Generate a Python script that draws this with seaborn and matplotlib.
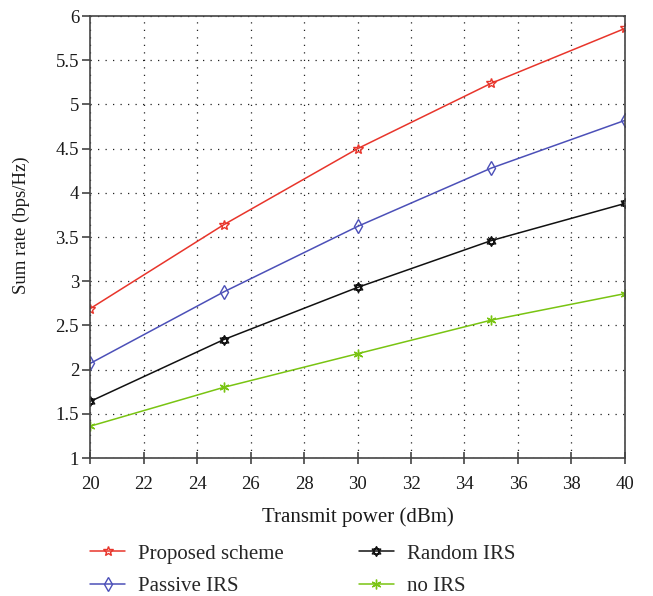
import numpy as np
import matplotlib
matplotlib.use("Agg")
import matplotlib.pyplot as plt
from matplotlib.path import Path
import seaborn as sns

# Data
transmit_power = [20, 25, 30, 35, 40]
proposed_scheme = [2.69, 3.64, 4.50, 5.24, 5.86]
passive_irs = [2.07, 2.88, 3.62, 4.28, 4.82]
random_irs = [1.64, 2.34, 2.93, 3.46, 3.88]
no_irs = [1.36, 1.80, 2.18, 2.56, 2.86]
series_names = ["Proposed scheme", "Passive IRS", "Random IRS", "no IRS"]
x_ticks = [20, 22, 24, 26, 28, 30, 32, 34, 36, 38, 40]
y_ticks = [1, 1.5, 2, 2.5, 3, 3.5, 4, 4.5, 5, 5.5, 6]

sns.set_theme(style="white")
plt.rcParams["font.family"] = ["Liberation Serif", "DejaVu Serif"]

# Six-pointed star (two overlapping triangles) for the random IRS curve
ang_up = np.deg2rad([90, 210, 330])
ang_dn = np.deg2rad([270, 30, 150])
verts, codes = [], []
for ang in (ang_up, ang_dn):
    pts = list(zip(np.cos(ang), np.sin(ang)))
    verts += pts + [pts[0]]
    codes += [Path.MOVETO, Path.LINETO, Path.LINETO, Path.CLOSEPOLY]
hexagram = Path(verts, codes)

series = [
    (proposed_scheme, "#e8352b", "*", 9),
    (passive_irs, "#4c50b8", "d", 9),
    (random_irs, "#111111", hexagram, 7),
    (no_irs, "#79c412", (6, 2, 0), 8),
]

fig = plt.figure(figsize=(6.53, 5.96), dpi=100)
ax = fig.add_axes([0.138, 0.2315, 0.819, 0.7415])

for name, (vals, color, mk, ms) in zip(series_names, series):
    sns.lineplot(x=transmit_power, y=vals, color=color, marker=mk,
                 markersize=ms, markerfacecolor="none", markeredgecolor=color,
                 markeredgewidth=1.0, linewidth=1.1, label=name, ax=ax)

ax.set_xlim(20, 40)
ax.set_ylim(1, 6)
ax.set_xticks(x_ticks)
ax.set_yticks(y_ticks)
ax.set_yticklabels([f"{v:g}" for v in y_ticks])
ax.grid(True, linestyle=(0, (1, 5)), color="#222222", linewidth=0.9)
ax.tick_params(axis="x", which="major", direction="inout", length=8,
               width=1.2, color="#444444", labelsize=13.5, labelcolor="#1a1a1a",
               bottom=True, pad=9)
ax.tick_params(axis="y", which="major", direction="out", length=6,
               width=1.2, color="#444444", labelsize=13.5, labelcolor="#1a1a1a",
               left=True, pad=2)
for s in ax.spines.values():
    s.set_color("#444444")
    s.set_linewidth(1.2)

ax.set_xlabel("Transmit power (dBm)", fontsize=15, color="#1a1a1a", labelpad=10)
ax.set_ylabel("Sum rate (bps/Hz)", fontsize=13.5, color="#1a1a1a")
ax.yaxis.set_label_coords(-0.113, 0.527)

handles, labels = ax.get_legend_handles_labels()
for h in handles:
    h.set_markersize(7)
ax.get_legend().remove()
fig.legend(handles, labels, loc="upper left", bbox_to_anchor=(90 / 653, 1 - 544 / 596),
           ncol=2, frameon=False, fontsize=15, handlelength=1.7,
           columnspacing=3.6, labelspacing=0.62, handletextpad=0.6,
           borderpad=0, borderaxespad=0)

fig.savefig("out.png", dpi=100)
